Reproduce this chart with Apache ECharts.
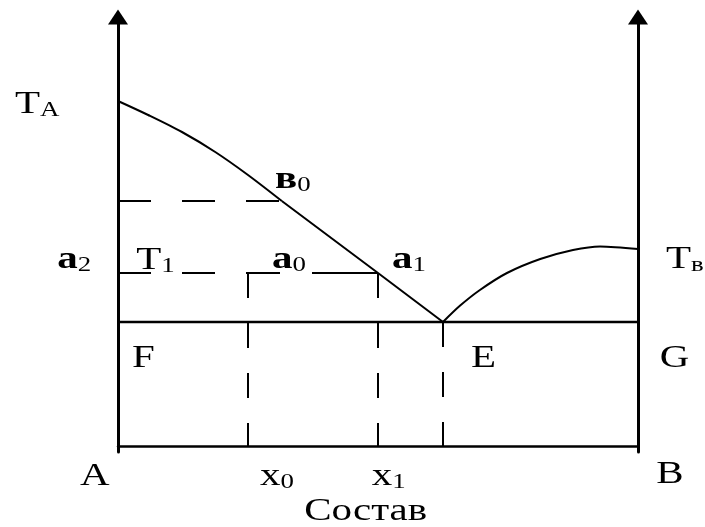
<!DOCTYPE html>
<html>
<head>
<meta charset="UTF-8">
<title>Диаграмма состояния A–B</title>
<script src="https://cdn.jsdelivr.net/npm/echarts@6/dist/echarts.min.js"></script>
<style>
  html, body { margin: 0; padding: 0; background: #fff; }
  #main { width: 705px; height: 527px; }
</style>
</head>
<body>
<div id="main"></div>
<script>
// состав: A = 0, B = 100; температура в условных единицах
var liquidusA = [[0, 86.25], [5.8, 82.75], [12.3, 78.5], [18.7, 73.5], [25, 67.75], [31.5, 61.25], [50, 43.25], [62.5, 31]];
var liquidusB = [[62.5, 31], [65.8, 35.1], [69.6, 39], [74.8, 43.25], [81.2, 46.75], [87.5, 49], [92.7, 49.9], [100, 49.25]];
var tEutectic = 31;     // линия F-E-G
var tB0 = 61.25;        // уровень точки в0
var tT1 = 43.25;        // уровень T1
var xB0 = 31.5, x0 = 25, x1 = 50, xE = 62.5;

// подписи: текст, индекс, x, T (низ подписи), жирный
var labels = [
  ['T', 'A', -19.8, 81.25, false],
  ['в', '0', 30.2, 62.5, true],
  ['a', '2', -11.7, 42.5, true],
  ['T', '1', 3.5, 42.25, false],
  ['a', '0', 29.6, 42.5, true],
  ['a', '1', 52.7, 42.5, true],
  ['T', 'в', 105.4, 42.5, false],
  ['F', '', 2.7, 17.75, false],
  ['E', '', 67.9, 17.75, false],
  ['G', '', 104.2, 17.75, false],
  ['A', '', -7.3, -11.75, false],
  ['x', '0', 27.3, -11.75, false],
  ['x', '1', 48.8, -11.75, false],
  ['B', '', 103.5, -11.25, false],
  ['Состав', '', 35.8, -20.5, false]
];

var serif = '"Liberation Serif", "Times New Roman", serif';

function seg(data, width, dash, smooth) {
  return {
    type: 'line',
    data: data,
    symbol: 'none',
    smooth: smooth || false,
    silent: true,
    lineStyle: { color: '#000', width: width, type: dash || 'solid' }
  };
}

function yAx(pos) {
  return {
    type: 'value', min: -1.5, max: 107.25, position: pos,
    axisLine: {
      show: true, onZero: false,
      symbol: ['none', 'triangle'], symbolSize: [20, 15],
      lineStyle: { color: '#000', width: 3 }
    },
    axisTick: { show: false }, axisLabel: { show: false }, splitLine: { show: false }
  };
}

var chart = echarts.init(document.getElementById('main'));
chart.setOption({
  animation: false,
  backgroundColor: '#fff',
  grid: { left: 118, right: 67, top: 17, bottom: 75 },
  xAxis: {
    type: 'value', min: 0, max: 100,
    axisLine: { onZero: true, lineStyle: { color: '#000', width: 2.5 } },
    axisTick: { show: false }, axisLabel: { show: false }, splitLine: { show: false }
  },
  yAxis: [yAx('left'), yAx('right')],
  series: [
    // кривая TA-в0 и прямой участок в0-a1-E
    seg(liquidusA.slice(0, 6), 2, null, 0.3),
    seg(liquidusA.slice(5), 2),
    seg(liquidusB, 2, null, 0.3),
    seg([[0, tEutectic], [100, tEutectic]], 2.5),
    seg([[0, tB0], [xB0, tB0]], 2, [33, 31]),
    seg([[0, tT1], [x0, tT1]], 2, [33, 31]),
    seg([[x0, tT1], [x1, tT1]], 2, [32, 32, 66]),
    seg([[x0, tT1], [x0, 0]], 2, [25, 25]),
    seg([[x1, tT1], [x1, 0]], 2, [25, 25]),
    seg([[xE, tEutectic], [xE, 0]], 2, [25, 25])
  ]
});

// подписи ставим по координатам осей
var graphic = labels.map(function (l) {
  var p = chart.convertToPixel({ gridIndex: 0 }, [l[2], l[3]]);
  var txt = '{' + (l[4] ? 'mb' : 'm') + '|' + l[0] + '}' + (l[1] ? '{s|' + l[1] + '}' : '');
  return {
    type: 'text', x: p[0], y: p[1], scaleX: 1.28,
    style: {
      text: txt, align: 'left', verticalAlign: 'bottom',
      rich: {
        m: { fontFamily: serif, fontSize: 32, lineHeight: 32, verticalAlign: 'bottom', fill: '#000' },
        mb: { fontFamily: serif, fontSize: 32, fontWeight: 'bold', lineHeight: 32, verticalAlign: 'bottom', fill: '#000' },
        s: { fontFamily: serif, fontSize: 21, lineHeight: 19, verticalAlign: 'bottom', fill: '#000' }
      }
    }
  };
});
chart.setOption({ graphic: graphic });
</script>
</body>
</html>
